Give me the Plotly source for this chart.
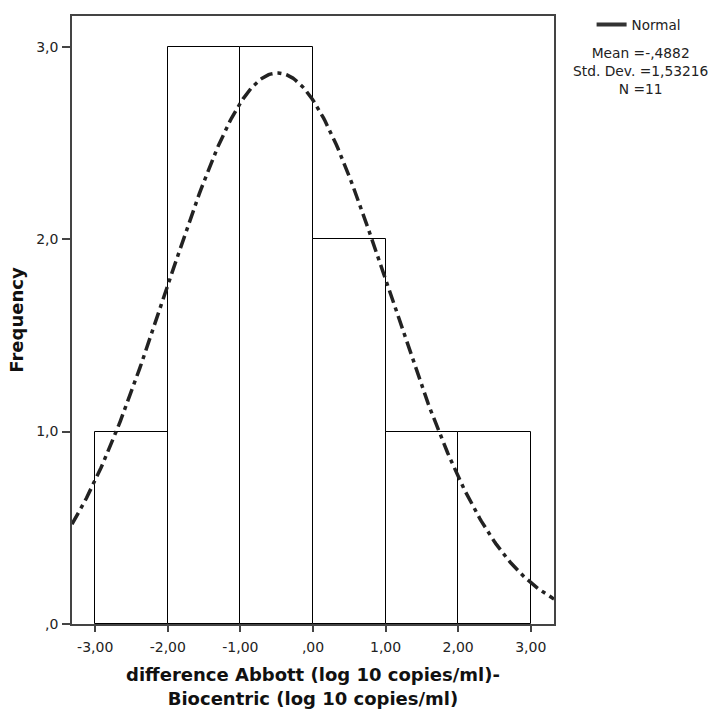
import numpy as np
import plotly.graph_objects as go

# Histogram data
bin_left = [-3, -2, -1, 0, 1, 2]
bin_width = 1
counts = [1, 3, 3, 2, 1, 1]

# Normal fit statistics (as shown in legend)
mean = -0.4882
sd = 1.53216
n = 11
stats_lines = ["Mean =-,4882", "Std. Dev. =1,53216", "N =11"]

x_ticks = [-3, -2, -1, 0, 1, 2, 3]
x_ticklabels = ["-3,00", "-2,00", "-1,00", ",00", "1,00", "2,00", "3,00"]
y_ticks = [0, 1, 2, 3]
y_ticklabels = [",0", "1,0", "2,0", "3,0"]

centers = [b + bin_width / 2 for b in bin_left]

xs = np.linspace(-3.32, 3.32, 300)
ys = n * bin_width / (sd * np.sqrt(2 * np.pi)) * np.exp(-0.5 * ((xs - mean) / sd) ** 2)

fig = go.Figure()
fig.add_trace(go.Bar(
    x=centers, y=counts, width=bin_width,
    marker=dict(color="white", line=dict(color="black", width=1)),
    showlegend=False, hoverinfo="skip",
))
fig.add_trace(go.Scatter(
    x=xs, y=ys, mode="lines", name="Normal", showlegend=False,
    line=dict(color="#222222", width=3.5, dash="13px,5px,4px,5px"),
))
# legend entry (solid line, as in the reference)
fig.add_trace(go.Scatter(
    x=[None], y=[None], mode="lines", name="Normal",
    line=dict(color="#333333", width=4),
))

font_family = "DejaVu Sans, Liberation Sans, Arial, sans-serif"
fig.update_layout(
    width=712, height=711,
    margin=dict(l=72, r=158, t=16, b=87, autoexpand=False),
    plot_bgcolor="white", paper_bgcolor="white",
    font=dict(family=font_family, size=14, color="#222222"),
    bargap=0,
    legend=dict(x=1.078, y=1.011, xanchor="left", yanchor="top",
                font=dict(size=13.5, color="#222222"), bgcolor="rgba(0,0,0,0)",
                itemwidth=30, tracegroupgap=0),
    xaxis=dict(
        range=[-3.32, 3.32], tickvals=x_ticks, ticktext=x_ticklabels,
        showgrid=False, zeroline=False, showline=True, mirror=True,
        linecolor="#444444", linewidth=1.5, ticks="outside", ticklen=6,
        tickcolor="#444444", tickwidth=1.5, ticklabelstandoff=3,
        tickfont=dict(size=14, color="#222222"), automargin=False,
        title=dict(text="<b>difference Abbott (log 10 copies/ml)-<br>Biocentric (log 10 copies/ml)</b>",
                   font=dict(size=18, color="#111111"), standoff=15),
    ),
    yaxis=dict(
        range=[0, 3.16], tickvals=y_ticks, ticktext=y_ticklabels,
        showgrid=False, zeroline=False, showline=True, mirror=True,
        linecolor="#444444", linewidth=1.5, ticks="outside", ticklen=8,
        tickcolor="#444444", tickwidth=1.5, ticklabelstandoff=1,
        tickfont=dict(size=14, color="#222222"), automargin=False,
        title=dict(text="<b>Frequency</b>", font=dict(size=18, color="#111111"), standoff=8),
    ),
)

plot_h = 711 - 16 - 87
fig.add_annotation(
    x=(640 - 72) / 482, y=1 - (43 - 16) / plot_h, xref="paper", yref="paper",
    text="<br>".join(stats_lines),
    showarrow=False, xanchor="center", yanchor="top", align="center",
    font=dict(size=13.8, color="#222222"),
)

fig.write_html("out.html")
